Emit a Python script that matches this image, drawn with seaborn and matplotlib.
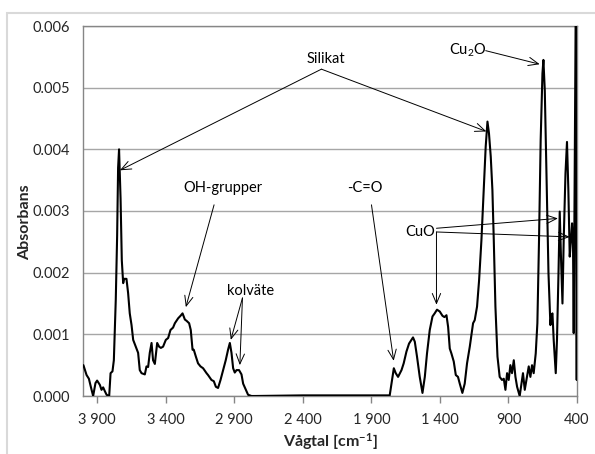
import matplotlib
matplotlib.use("Agg")
import matplotlib.pyplot as plt
import seaborn as sns
import pandas as pd
from matplotlib.patches import Rectangle
from matplotlib.ticker import FixedLocator, FuncFormatter

# ---- data ----
wavenumber = [4000, 3977, 3960, 3946, 3929, 3912, 3900, 3880, 3868, 3856, 3844, 3831, 3812,
              3802, 3788, 3778, 3764, 3754, 3747, 3740, 3729, 3720, 3710, 3703, 3686, 3674,
              3662, 3649, 3637, 3618, 3601, 3589, 3576, 3552, 3540, 3528, 3516, 3503, 3492,
              3479, 3462, 3448, 3435, 3419, 3399, 3382, 3365, 3346, 3333, 3309, 3292, 3277,
              3260, 3248, 3229, 3217, 3204, 3195, 3180, 3164, 3146, 3127, 3102, 3091, 3066,
              3049, 3034, 3018, 3000, 2981, 2962, 2945, 2932, 2920, 2908, 2896, 2883, 2865,
              2847, 2835, 2815, 2799, 2774, 2750, 2400, 2000, 1766, 1746, 1736, 1722, 1705,
              1680, 1664, 1644, 1625, 1596, 1583, 1567, 1547, 1527, 1510, 1494, 1474, 1454,
              1438, 1421, 1401, 1381, 1367, 1352, 1340, 1328, 1316, 1299, 1284, 1268, 1255,
              1236, 1219, 1202, 1182, 1158, 1146, 1129, 1114, 1097, 1080, 1066, 1053, 1042,
              1029, 1017, 1007, 995, 980, 964, 947, 934, 922, 910, 898, 886, 874, 861, 849,
              837, 818, 805, 794, 781, 769, 752, 740, 728, 716, 701, 689, 677, 665, 652, 645,
              635, 623, 608, 594, 587, 579, 570, 555, 546, 535, 526, 517, 506, 497, 484, 473,
              463, 453, 444, 436, 429, 424, 406, 402, 400]
absorbance = [0.0005, 0.00034, 0.00028, 0.00015, 0.0, 0.00021, 0.00025, 0.00018, 0.0001, 0.00014,
              0.00008, 0.00002, 0.0, 0.00037, 0.0004, 0.00058, 0.00156, 0.0026, 0.0037, 0.0040,
              0.0032, 0.0022, 0.00183, 0.0019, 0.0019, 0.00167, 0.00134, 0.00115, 0.00091, 0.0008,
              0.0007, 0.00042, 0.00037, 0.00035, 0.00048, 0.00047, 0.0007, 0.00086, 0.00058,
              0.00052, 0.00086, 0.0008, 0.00078, 0.0008, 0.00091, 0.00094, 0.00107, 0.00111,
              0.00118, 0.00126, 0.0013, 0.00134, 0.00124, 0.00122, 0.00118, 0.00107, 0.00075,
              0.00075, 0.00064, 0.00053, 0.00048, 0.00045, 0.00037, 0.00034, 0.00026, 0.00024,
              0.00015, 0.00013, 0.00026, 0.00042, 0.00058, 0.00075, 0.00086, 0.0007, 0.00045,
              0.00038, 0.00042, 0.00042, 0.00035, 0.0002, 0.0001, 0.00002, 0.0, 0.0, 0.00001,
              0.00001, 0.00001, 0.00031, 0.00045, 0.00037, 0.00031, 0.00042, 0.00053, 0.00072,
              0.00085, 0.00095, 0.00088, 0.00064, 0.00031, 0.00005, 0.00031, 0.00069, 0.00107,
              0.00129, 0.00134, 0.0014, 0.00137, 0.0013, 0.00128, 0.00131, 0.00112, 0.00077,
              0.00069, 0.00056, 0.00034, 0.00031, 0.0002, 0.00005, 0.0002, 0.00053, 0.0008,
              0.00118, 0.00123, 0.00145, 0.00188, 0.00253, 0.00334, 0.00404, 0.00445, 0.00426,
              0.00388, 0.00334, 0.00253, 0.00145, 0.00064, 0.00031, 0.00026, 0.00028, 0.0001,
              0.00037, 0.00026, 0.0005, 0.00037, 0.00058, 0.00031, 0.00015, 0.0, 0.0002,
              0.00037, 0.0001, 0.00026, 0.00048, 0.00031, 0.0005, 0.00037, 0.00069, 0.00118,
              0.00253, 0.00415, 0.00523, 0.00545, 0.00496, 0.00361, 0.00199, 0.00115, 0.00131,
              0.00134, 0.00091, 0.00037, 0.00091, 0.00199, 0.00299, 0.00226, 0.0015, 0.00253,
              0.00361, 0.00412, 0.00334, 0.00226, 0.00253, 0.0028, 0.00244, 0.00102, 0.0075,
              0.00026, 0.0075]

x_ticks = [3900, 3400, 2900, 2400, 1900, 1400, 900, 400]
y_ticks = [0.000, 0.001, 0.002, 0.003, 0.004, 0.005, 0.006]

# annotations: label, text position, list of (arrow start, arrow tip)
annotations = [
    ("Silikat", (2228, 0.00546), [((2264, 0.0053), (3734, 0.00366)),
                                  ((2264, 0.0053), (1061, 0.00429))]),
    ("OH-grupper", (2981, 0.00337), [((3047, 0.0031), (3253, 0.00144))]),
    ("kolväte", (2781, 0.0017), [((2840, 0.00159), (2925, 0.00091)),
                                 ((2840, 0.00159), (2859, 0.0005))]),
    ("-C=O", (1948, 0.00337), [((1899, 0.0031), (1737, 0.00057))]),
    ("Cu$_2$O", (1195, 0.00561), [((1066, 0.0056), (672, 0.00538))]),
    ("CuO", (1545, 0.00266), [((1425, 0.00266), (1425, 0.00148)),
                              ((1425, 0.00272), (539, 0.00288)),
                              ((1425, 0.00266), (453, 0.00258))]),
]

df = pd.DataFrame({"wn": wavenumber, "A": absorbance})

sns.set_theme(style="white")
plt.rcParams["font.family"] = ["Lato", "DejaVu Sans"]
plt.rcParams["mathtext.fontset"] = "custom"
plt.rcParams["mathtext.rm"] = "Lato"
plt.rcParams["mathtext.it"] = "Lato"
plt.rcParams["mathtext.bf"] = "Lato:bold"

fig = plt.figure(figsize=(5.95, 4.54), dpi=100)
ax = fig.add_axes([83 / 595, 1 - 396 / 454, (577 - 83) / 595, (396 - 26) / 454])

# outer chart border (light grey)
fig.add_artist(Rectangle((7 / 595, -0.2), 1.2, 1.2 - 13 / 454, transform=fig.transFigure,
                         fill=False, edgecolor="#D9D9D9", linewidth=1.5, zorder=-5))

sns.lineplot(data=df, x="wn", y="A", sort=False, estimator=None, color="black",
             linewidth=1.5, ax=ax, zorder=3)

ax.set_xlim(4003, 400)
ax.set_ylim(0, 0.006)
ax.xaxis.set_major_locator(FixedLocator(x_ticks))
ax.yaxis.set_major_locator(FixedLocator(y_ticks))
ax.xaxis.set_major_formatter(FuncFormatter(lambda v, p: f"{int(v):,}".replace(",", " ")))
ax.yaxis.set_major_formatter(FuncFormatter(lambda v, p: f"{v:.3f}"))
ax.grid(axis="y", color="#A6A6A6", linewidth=1.0)
ax.grid(axis="x", visible=False)
ax.set_axisbelow(True)
for s in ax.spines.values():
    s.set_color("#868686")
    s.set_linewidth(1.0)
ax.tick_params(axis="x", length=5, width=1, color="#868686", pad=7, labelsize=10.5,
               direction="out", bottom=True)
ax.tick_params(axis="y", length=0, pad=9.5, labelsize=10.5)

ax.set_xlabel("Vågtal [cm$^{\\mathbf{-1}}$]", fontsize=11.5, fontweight="bold", labelpad=3)
ax.set_ylabel("")
fig.text(25 / 595, 1 - 222 / 454, "Absorbans", rotation=90, ha="center", va="center",
         fontsize=11.5, fontweight="bold")

for label, tpos, arrows in annotations:
    ax.text(tpos[0], tpos[1], label, ha="center", va="center", fontsize=10.5, color="black",
            zorder=5)
    for start, tip in arrows:
        ax.annotate("", xy=tip, xytext=start,
                    arrowprops=dict(arrowstyle="->,head_length=0.6,head_width=0.25",
                                    color="black", lw=0.7, shrinkA=0, shrinkB=0),
                    zorder=4)

fig.savefig("out.png", dpi=100)
